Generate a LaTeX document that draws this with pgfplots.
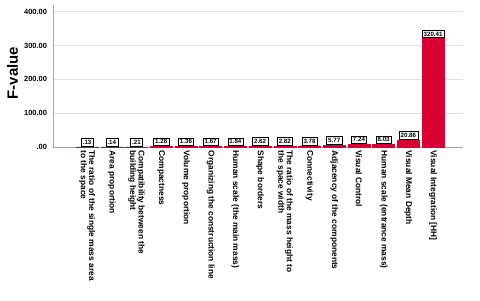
\documentclass[border=0pt]{standalone}
\usepackage{fontspec}
\setmainfont{Liberation Sans}
\usepackage{pgfplots}
\pgfplotsset{compat=1.18}
\definecolor{barred}{RGB}{218,0,52}
\begin{document}
\begin{tikzpicture}
\useasboundingbox (-53bp,-154bp) rectangle (427bp,147bp);
\begin{axis}[
  scale only axis,
  width=410bp, height=142bp,
  xmin=-1.38, xmax=15.21,
  ymin=0, ymax=420,
  axis lines=left,
  axis line style={draw=gray!70, -},
  major tick length=0pt,
  ymajorgrids,
  grid style={draw=gray!25, line width=0.8pt},
  ytick={0,100,200,300,400},
  yticklabels={.00,100.00,200.00,300.00,400.00},
  yticklabel style={font=\fontsize{7.5}{8}\selectfont\bfseries, xshift=-2.5bp},
  xtick={0,...,14},
  xticklabels={
    {The ratio of the single mass area\\to the space},
    {Area proportion},
    {Compatibility between the\\building height},
    {Compactness},
    {Volume proportion},
    {Organizing the construction line},
    {Human scale (the main mass)},
    {Shape borders},
    {The ratio of the mass height to\\the space width},
    {Connectivity},
    {Adjacency of the components},
    {Visual Control},
    {Human scale (entrance mass)},
    {Visual Mean Depth},
    {Visual Integration [HH]}},
  xticklabel style={rotate=-90, anchor=west, align=left,
    font=\fontsize{8.4}{8.4}\selectfont\bfseries, yshift=0bp},
  ylabel={F-value},
  ylabel style={font=\fontsize{15}{18}\selectfont\bfseries,
    at={(axis description cs:-0.099,0.52)}, anchor=center},
  ybar, bar width=22bp,
  point meta=explicit symbolic,
  nodes near coords,
  every node near coord/.append style={draw=black, fill=white, line width=0.4pt,
    inner sep=1.6pt, anchor=south, yshift=0.8bp,
    font=\fontsize{6.2}{6.5}\selectfont\bfseries},
]
\addplot[fill=barred, draw=barred] coordinates {
  (0,0.13) [.13]
  (1,0.14) [.14]
  (2,0.21) [.21]
  (3,1.28) [1.28]
  (4,1.36) [1.36]
  (5,1.67) [1.67]
  (6,1.84) [1.84]
  (7,2.62) [2.62]
  (8,2.82) [2.82]
  (9,3.78) [3.78]
  (10,5.77) [5.77]
  (11,7.24) [7.24]
  (12,8.03) [8.03]
  (13,20.86) [20.86]
  (14,320.41) [320.41]
};
\end{axis}
\end{tikzpicture}
\end{document}
